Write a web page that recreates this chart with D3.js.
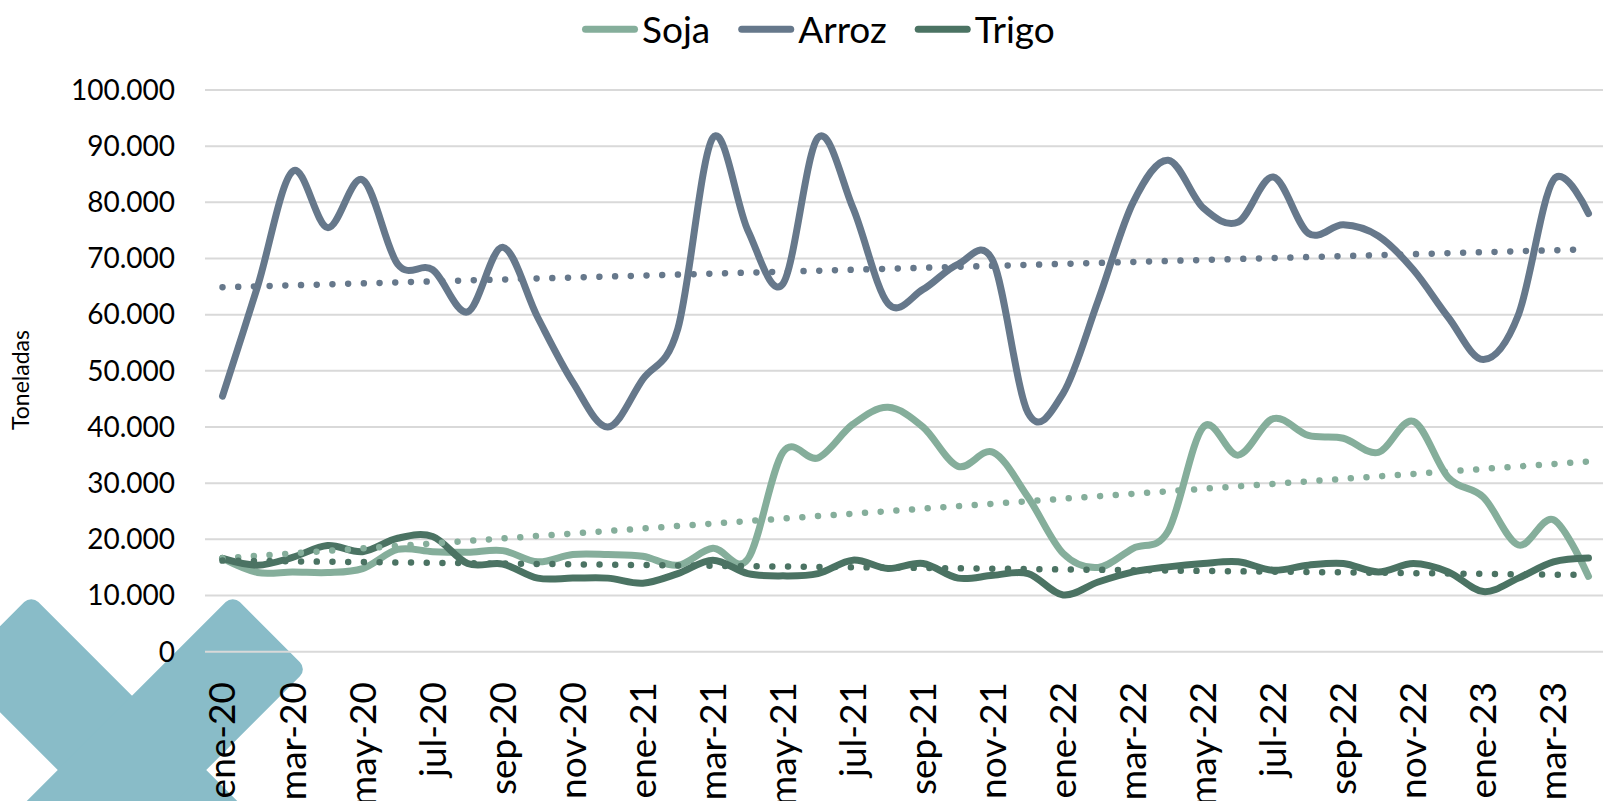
<!DOCTYPE html>
<html lang="es">
  <head>
    <meta charset="utf-8">
    <title>Soja, Arroz, Trigo</title>
    <script src="https://d3js.org/d3.v7.min.js"></script>
    <style>
      body { margin: 0; background: white; }
      svg { font-family: Lato, 'Open Sans', sans-serif; display: block; }
      .grid line { stroke: #d9d9d9; stroke-width: 2px; }
      .serie { fill: none; stroke-width: 7px; stroke-linecap: round; stroke-linejoin: round; }
      .trend { fill: none; stroke-width: 6.5px; stroke-linecap: round; stroke-dasharray: 0.01 15.7; }
    </style>
  </head>
  <body>
  <div id="chart"></div>
  <script>

  // months (category axis)
  var meses = ["ene-20","feb-20","mar-20","abr-20","may-20","jun-20","jul-20","ago-20","sep-20","oct-20","nov-20","dic-20",
               "ene-21","feb-21","mar-21","abr-21","may-21","jun-21","jul-21","ago-21","sep-21","oct-21","nov-21","dic-21",
               "ene-22","feb-22","mar-22","abr-22","may-22","jun-22","jul-22","ago-22","sep-22","oct-22","nov-22","dic-22",
               "ene-23","feb-23","mar-23","abr-23"];

  // toneladas por mes
  var soja = [16600,14100,14200,14100,14800,18200,17800,17700,18000,16000,17300,17300,
              17000,15400,18400,16500,35500,34500,40500,43500,40000,33000,35500,27500,
              17500,15000,18400,21500,40000,35000,41500,38500,38000,35500,41000,31000,
              27500,19000,23500,13400];
  var arroz = [45500,65000,85500,75500,84000,69000,68000,60500,72000,59500,48000,40000,
               48500,57500,91500,75000,65500,91500,79000,62000,64500,69000,69500,42500,
               46000,62500,80000,87500,79000,76500,84500,74500,76000,74000,68000,59500,
               52000,60000,84000,78000];
  var trigo = [16600,15400,16800,18900,17800,20200,20500,15700,15600,13100,13100,13100,
               12200,13900,16300,13900,13500,13900,16300,14800,15700,13100,13600,13900,
               10100,12400,14200,15100,15700,16000,14500,15400,15700,14200,15700,14200,
               10700,13100,16000,16700];

  var nombres = ["Soja", "Arroz", "Trigo"];
  var colores = ["#85ae9b", "#66788b", "#4b7363"];
  var yTicks = [0,10000,20000,30000,40000,50000,60000,70000,80000,90000,100000];

  var width = 1603, height = 801;

  var svg = d3.select("#chart").append("svg")
      .attr("width", width)
      .attr("height", height);

  // decorative cross in the lower-left corner
  var deco = svg.append("g").attr("transform", "translate(132,770)");
  [45, -45].forEach(function(a) {
    deco.append("rect")
      .attr("x", -195).attr("y", -52.5)
      .attr("width", 390).attr("height", 105)
      .attr("rx", 10)
      .attr("fill", "#89bcc8")
      .attr("transform", "rotate(" + a + ")");
  });

  var x = d3.scaleBand().domain(meses).range([205, 1606]);
  var y = d3.scaleLinear().domain([0, 100000]).range([651.7, 90]);
  var cx = function(d, i) { return x(meses[i]) + x.bandwidth() / 2; };

  var fmt = d3.formatLocale({decimal: ",", thousands: ".", grouping: [3], currency: ["", ""]}).format(",d");

  // horizontal gridlines
  svg.append("g").attr("class", "grid")
    .selectAll("line").data(yTicks).enter().append("line")
      .attr("x1", 205).attr("x2", width)
      .attr("y1", function(d) { return y(d); })
      .attr("y2", function(d) { return y(d); });

  // y axis labels
  svg.append("g").selectAll("text").data(yTicks).enter().append("text")
      .attr("x", 175)
      .attr("y", function(d) { return y(d); })
      .attr("dy", "0.35em")
      .attr("text-anchor", "end")
      .style("font-size", "28px")
      .text(function(d) { return fmt(d); });

  svg.append("text")
      .attr("transform", "translate(21,380) rotate(-90)")
      .attr("text-anchor", "middle")
      .attr("dy", "0.35em")
      .style("font-size", "23px")
      .text("Toneladas");

  // x axis labels, every second month
  svg.append("g").selectAll("text")
    .data(meses.filter(function(d, i) { return i % 2 === 0; }))
    .enter().append("text")
      .attr("transform", function(d) {
        return "translate(" + (x(d) + x.bandwidth() / 2) + ",682) rotate(-90)";
      })
      .attr("text-anchor", "end")
      .attr("dy", "0.35em")
      .style("font-size", "37px")
      .text(function(d) { return d; });

  var series = [soja, arroz, trigo];

  var line = d3.line()
      .x(cx)
      .y(function(d) { return y(d); })
      .curve(d3.curveCardinal.tension(0));

  series.forEach(function(s, k) {
    svg.append("path")
      .datum(s)
      .attr("class", "serie")
      .attr("stroke", colores[k])
      .attr("d", line);
  });

  // linear trendlines (least squares)
  function tendencia(s) {
    var n = s.length, mx = (n - 1) / 2, my = d3.mean(s), num = 0, den = 0;
    s.forEach(function(v, i) { num += (i - mx) * (v - my); den += (i - mx) * (i - mx); });
    var b = num / den, a = my - b * mx;
    return [[0, a], [n - 1, a + b * (n - 1)]];
  }

  series.forEach(function(s, k) {
    var t = tendencia(s);
    svg.append("path")
      .attr("class", "trend")
      .attr("stroke", colores[k])
      .attr("d", d3.line()
        .x(function(d) { return x(meses[d[0]]) + x.bandwidth() / 2; })
        .y(function(d) { return y(d[1]); })(t));
  });

  // legend
  var leg = svg.append("g").attr("transform", "translate(582,0)");
  var pos = 0;
  nombres.forEach(function(n, k) {
    leg.append("line")
      .attr("x1", pos + 3.5).attr("x2", pos + 52.5)
      .attr("y1", 29.3).attr("y2", 29.3)
      .attr("stroke", colores[k])
      .attr("stroke-width", 7)
      .attr("stroke-linecap", "round");
    var t = leg.append("text")
      .attr("x", pos + 60)
      .attr("y", 42.5)
      .style("font-size", "37px")
      .text(n);
    pos += 60 + t.node().getComputedTextLength() + 28;
  });

  </script>
  </body>
</html>
